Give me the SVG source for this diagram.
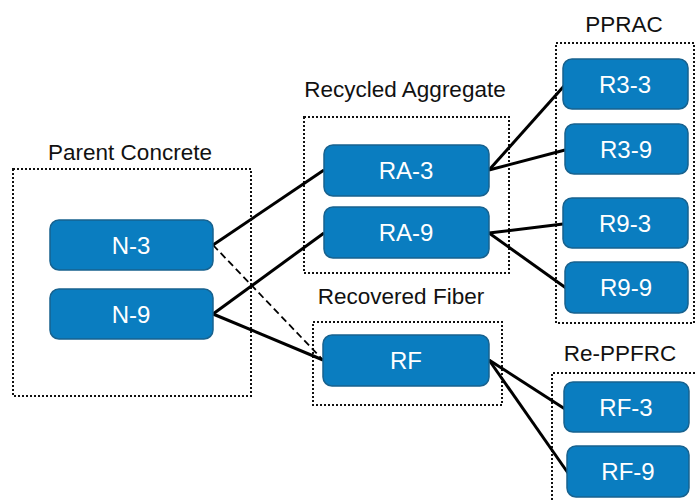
<svg xmlns="http://www.w3.org/2000/svg" width="697" height="502" viewBox="0 0 697 502">
<style>
.grp{fill:none;stroke:#111;stroke-width:2;stroke-dasharray:2 2}
.node rect{fill:#0a7dc0;stroke:#17628f;stroke-width:1.5}
.node text{fill:#fff;font-family:"Liberation Sans",Arial,sans-serif;font-size:24px;text-anchor:middle}
.title{fill:#111;font-family:"Liberation Sans",Arial,sans-serif;font-size:22.5px;text-anchor:middle}
.conn line{stroke:#000;stroke-width:3}
.conn line.dash{stroke-width:1.8;stroke-dasharray:7 4}
</style>
<rect width="697" height="502" fill="#fff"/>
<g id="groups">
<rect class="grp" x="13" y="169" width="238" height="227"/>
<text class="title" x="130" y="160">Parent Concrete</text>
<rect class="grp" x="304" y="117" width="205" height="156"/>
<text class="title" x="405" y="97">Recycled Aggregate</text>
<rect class="grp" x="556" y="43" width="138" height="280"/>
<text class="title" x="624" y="32">PPRAC</text>
<rect class="grp" x="313" y="322" width="189" height="83"/>
<text class="title" x="401" y="304">Recovered Fiber</text>
<path class="grp" d="M552,504 V373 H697"/>
<text class="title" x="620" y="361">Re-PPFRC</text>
</g>
<g id="connectors" class="conn">
<line x1="213" y1="245" x2="324" y2="170"/>
<line class="dash" x1="213" y1="245" x2="323" y2="360"/>
<line x1="213" y1="314" x2="324" y2="233"/>
<line x1="213" y1="314" x2="323" y2="360"/>
<line x1="489" y1="170" x2="564" y2="86"/>
<line x1="489" y1="170" x2="565" y2="150"/>
<line x1="489" y1="233" x2="563" y2="224"/>
<line x1="489" y1="233" x2="566" y2="288"/>
<line x1="489" y1="360" x2="565" y2="409"/>
<line x1="489" y1="360" x2="568" y2="473"/>
</g>
<g id="N-3" class="node"><rect x="50" y="220" width="163" height="50" rx="9"/><text x="131" y="254">N-3</text></g>
<g id="N-9" class="node"><rect x="50" y="289" width="163" height="50" rx="9"/><text x="131" y="323">N-9</text></g>
<g id="RA-3" class="node"><rect x="324" y="145" width="165" height="51" rx="9"/><text x="406" y="179">RA-3</text></g>
<g id="RA-9" class="node"><rect x="324" y="207" width="165" height="51" rx="9"/><text x="406" y="241">RA-9</text></g>
<g id="RF" class="node"><rect x="323" y="335" width="166" height="51" rx="9"/><text x="406" y="369">RF</text></g>
<g id="R3-3" class="node"><rect x="563" y="59" width="125" height="50" rx="9"/><text x="625" y="93">R3-3</text></g>
<g id="R3-9" class="node"><rect x="565" y="124" width="123" height="50" rx="9"/><text x="626" y="158">R3-9</text></g>
<g id="R9-3" class="node"><rect x="563" y="198" width="125" height="50" rx="9"/><text x="625" y="232">R9-3</text></g>
<g id="R9-9" class="node"><rect x="565" y="262" width="123" height="51" rx="9"/><text x="626" y="296">R9-9</text></g>
<g id="RF-3" class="node"><rect x="564" y="382" width="125" height="50" rx="9"/><text x="626" y="416">RF-3</text></g>
<g id="RF-9" class="node"><rect x="567" y="446" width="122" height="51" rx="9"/><text x="628" y="480">RF-9</text></g>
</svg>
